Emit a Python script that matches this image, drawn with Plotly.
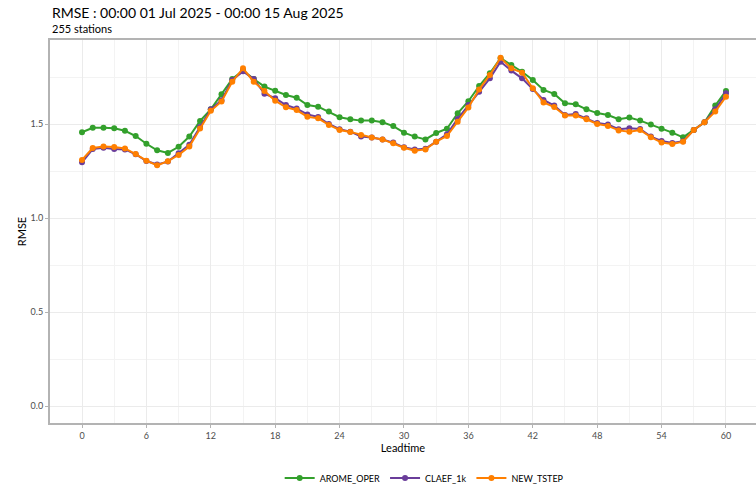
import plotly.graph_objects as go

leadtime = list(range(0, 61))

arome_oper = [1.456, 1.480, 1.480, 1.477, 1.464, 1.436, 1.395, 1.360, 1.346, 1.379,
              1.433, 1.516, 1.578, 1.658, 1.740, 1.785, 1.739, 1.699, 1.677, 1.654,
              1.640, 1.601, 1.592, 1.566, 1.536, 1.525, 1.518, 1.518, 1.509, 1.489,
              1.454, 1.433, 1.418, 1.452, 1.475, 1.557, 1.621, 1.702, 1.770, 1.850,
              1.814, 1.778, 1.734, 1.681, 1.660, 1.610, 1.605, 1.578, 1.558, 1.548,
              1.525, 1.534, 1.518, 1.498, 1.475, 1.454, 1.429, 1.468, 1.509, 1.598,
              1.676]

claef_1k = [1.296, 1.367, 1.374, 1.367, 1.365, 1.339, 1.303, 1.285, 1.300, 1.344,
            1.390, 1.484, 1.578, 1.626, 1.734, 1.780, 1.740, 1.661, 1.637, 1.601,
            1.582, 1.551, 1.537, 1.500, 1.472, 1.459, 1.433, 1.428, 1.418, 1.401,
            1.376, 1.365, 1.369, 1.406, 1.445, 1.527, 1.601, 1.672, 1.743, 1.831,
            1.784, 1.743, 1.686, 1.628, 1.598, 1.548, 1.553, 1.530, 1.505, 1.498,
            1.472, 1.477, 1.473, 1.433, 1.410, 1.399, 1.408, 1.468, 1.509, 1.578,
            1.663]

new_tstep = [1.309, 1.372, 1.380, 1.378, 1.370, 1.340, 1.305, 1.280, 1.302, 1.335,
             1.380, 1.476, 1.570, 1.620, 1.725, 1.796, 1.725, 1.675, 1.624, 1.589,
             1.574, 1.539, 1.530, 1.495, 1.468, 1.458, 1.441, 1.428, 1.418, 1.397,
             1.374, 1.358, 1.365, 1.406, 1.436, 1.512, 1.588, 1.684, 1.761, 1.852,
             1.796, 1.773, 1.690, 1.615, 1.590, 1.545, 1.545, 1.525, 1.500, 1.490,
             1.466, 1.459, 1.468, 1.430, 1.401, 1.394, 1.406, 1.468, 1.509, 1.566,
             1.645]

series = [("AROME_OPER", arome_oper, "#33a02c"),
          ("CLAEF_1k", claef_1k, "#6a3d9a"),
          ("NEW_TSTEP", new_tstep, "#ff7f00")]

x_ticks = list(range(0, 61, 6))
y_ticks = [0.0, 0.5, 1.0, 1.5]
y_tick_labels = ["0.0", "0.5", "1.0", "1.5"]

fig = go.Figure()
for name, vals, col in series:
    fig.add_trace(go.Scatter(
        x=leadtime, y=vals, name=name, mode="lines+markers",
        line=dict(color=col, width=2),
        marker=dict(color=col, size=6),
    ))

W, H = 756, 485
left, right, top, bottom = 50, 0, 40, 62
# pixel mappings
x0_px, px_per_h = 82, 10.733
y0_px, px_per_u = 406, 188.0
x_lo = (left - x0_px) / px_per_h
x_hi = (W - right - x0_px) / px_per_h
y_hi = (y0_px - top) / px_per_u
y_lo = (y0_px - (H - bottom)) / px_per_u
plot_h = H - top - bottom

fig.update_layout(
    width=W, height=H,
    margin=dict(l=left, r=right, t=top, b=bottom, autoexpand=False),
    paper_bgcolor="white", plot_bgcolor="white",
    font=dict(family="Lato", color="#000000"),
    showlegend=True,
    legend=dict(orientation="h", x=0.53, xanchor="center",
                y=-(478 - (H - bottom)) / plot_h, yanchor="middle",
                font=dict(size=9, family="Lato", color="#000000"),
                itemwidth=30, tracegroupgap=0),
    xaxis=dict(
        range=[x_lo, x_hi], tickvals=x_ticks, ticks="outside", ticklen=3,
        tickcolor="#b3b3b3", tickfont=dict(size=9, color="#4d4d4d"),
        showgrid=True, gridcolor="#ebebeb", gridwidth=1,
        minor=dict(dtick=3, tick0=0, showgrid=True, gridcolor="#f3f3f3", gridwidth=0.7),
        showline=True, linecolor="#b3b3b3", linewidth=2, mirror=True,
        zeroline=False, automargin=False,
        title=dict(text="Leadtime", font=dict(size=11, color="#000000"), standoff=1),
    ),
    yaxis=dict(
        range=[y_lo, y_hi], tickvals=y_ticks, ticktext=y_tick_labels,
        ticks="outside", ticklen=3, tickcolor="#b3b3b3",
        tickfont=dict(size=9, color="#4d4d4d"),
        showgrid=True, gridcolor="#ebebeb", gridwidth=1,
        minor=dict(dtick=0.25, tick0=0, showgrid=True, gridcolor="#f3f3f3", gridwidth=0.7),
        showline=True, linecolor="#b3b3b3", linewidth=2,
        zeroline=False, automargin=False,
        title=dict(text="RMSE", font=dict(size=11, color="#000000"), standoff=2),
    ),
    annotations=[
        dict(text="RMSE : 00:00 01 Jul 2025 - 00:00 15 Aug 2025",
             xref="paper", yref="paper", x=0, xanchor="left",
             y=1 + (top - 12) / plot_h, yanchor="middle", showarrow=False,
             font=dict(size=14, family="Lato", color="#000000")),
        dict(text="255 stations",
             xref="paper", yref="paper", x=0, xanchor="left",
             y=1 + (top - 28) / plot_h, yanchor="middle", showarrow=False,
             font=dict(size=11, family="Lato", color="#000000")),
    ],
)

fig.write_html("out.html",
               config={"displayModeBar": False},
               post_script="document.body.style.margin='0';document.body.style.padding='0';")
